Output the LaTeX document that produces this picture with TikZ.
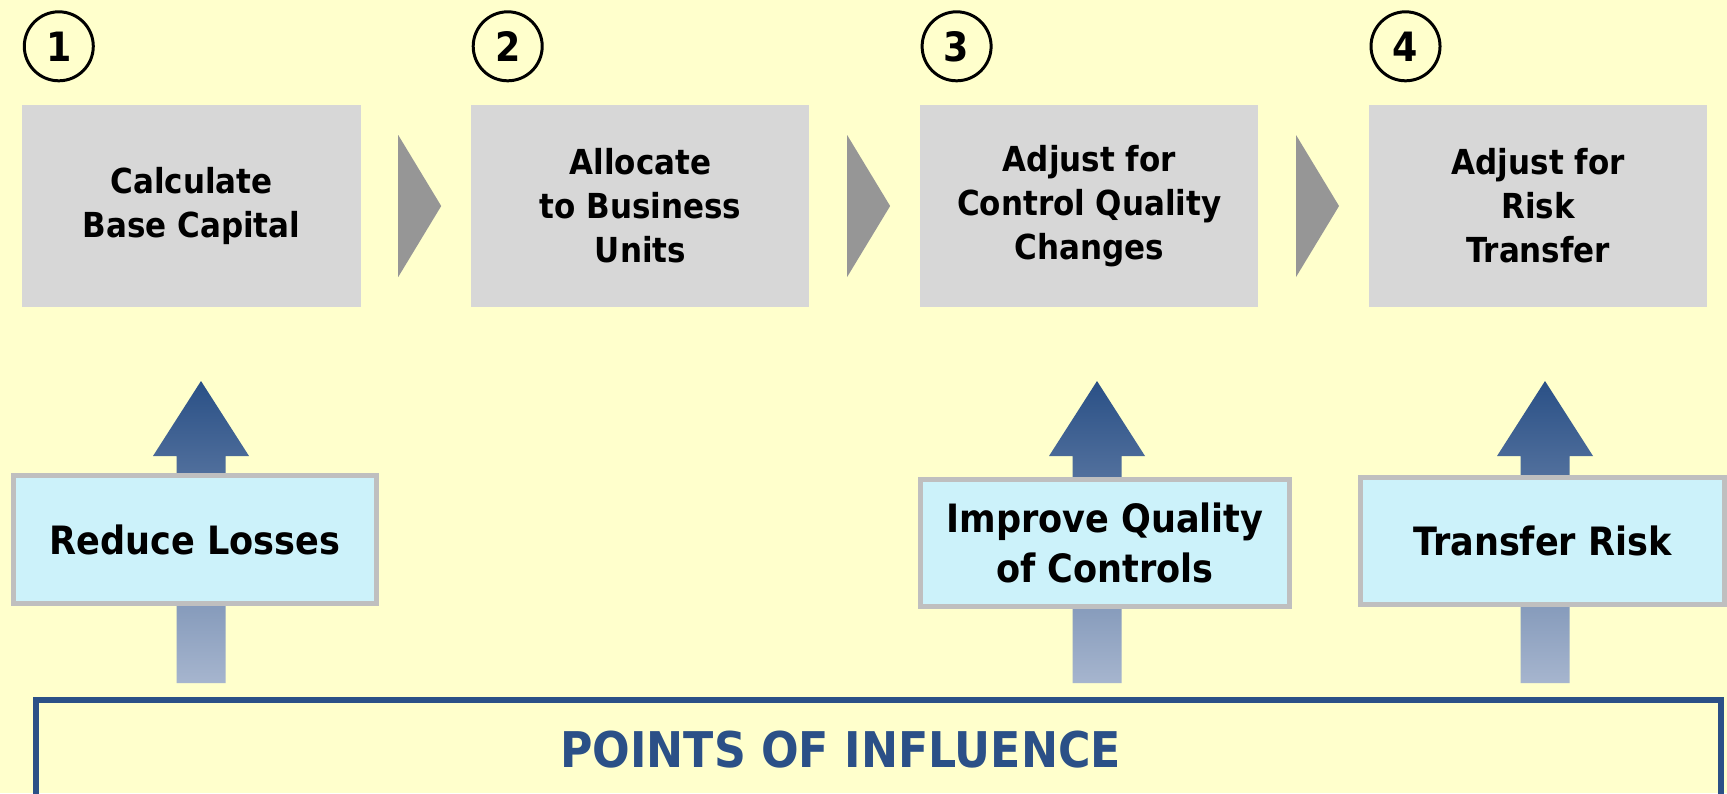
\documentclass[tikz,border=0pt]{standalone}
\usepackage{fontspec}
\setmainfont{DejaVu Sans Condensed}
\usetikzlibrary{positioning,calc}

\definecolor{bgyellow}{HTML}{FFFFCC}
\definecolor{boxgray}{HTML}{D7D7D7}
\definecolor{chevgray}{HTML}{969696}
\definecolor{leverblue}{HTML}{CCF2FA}
\definecolor{levergray}{HTML}{BFBFBF}
\definecolor{infblue}{HTML}{2B5087}
\definecolor{arrowtop}{HTML}{2A5086}
\definecolor{arrowbot}{HTML}{A6B5CE}

\begin{document}
\begin{tikzpicture}[
  node distance=1.095cm,
  stepbox/.style={fill=boxgray, minimum width=3.38cm, minimum height=2.02cm,
    inner sep=0pt, align=center, font=\fontsize{9.8}{12.5}\selectfont\bfseries},
  num/.style={draw, circle, line width=0.85pt, minimum size=0.69cm, inner sep=0pt,
    font=\fontsize{11.5}{13}\selectfont\bfseries},
  lever/.style={fill=leverblue, draw=levergray, line width=0.05cm, inner sep=0pt,
    align=center, font=\fontsize{11.1}{14}\selectfont\bfseries},
  chev/.style={fill=chevgray},
  push/.style={top color=arrowtop, bottom color=arrowbot}
]
\fill[bgyellow] (0,0) rectangle (17.27,-7.93);
\useasboundingbox (0,0) rectangle (17.27,-7.93);

% process steps
\node[stepbox] (calc) at (1.915,-2.06) {Calculate\\Base Capital};
\node[stepbox, right=of calc] (alloc) {Allocate\\to Business\\Units};
\node[stepbox, right=of alloc] (ctrl) {Adjust for\\Control Quality\\Changes};
\node[stepbox, right=of ctrl] (risk) {Adjust for\\Risk\\Transfer};

\foreach \b/\n in {calc/1, alloc/2, ctrl/3, risk/4}
  \node[num] (n\n) at ($(\b.north west)+(0.37,0.58)$) {\n};

\foreach \b in {calc, alloc, ctrl}
  \fill[chev] ($(\b.east)+(0.37,0.71)$) -- ($(\b.east)+(0.80,0)$)
    -- ($(\b.east)+(0.37,-0.71)$) -- cycle;

% influence arrows
\coordinate (p1) at (2.01,-6.83);
\coordinate (p3) at (10.97,-6.83);
\coordinate (p4) at (15.45,-6.83);
\foreach \p in {p1, p3, p4}
  \shade[push] ($(\p)+(-0.245,0)$) -- ++(0,2.27) -- ++(-0.235,0) -- ++(0.48,0.75)
    -- ++(0.48,-0.75) -- ++(-0.235,0) -- ++(0,-2.27) -- cycle;

\node[lever, minimum width=3.63cm, minimum height=1.28cm] (loss) at (1.95,-5.395) {Reduce Losses};
\node[lever, minimum width=3.69cm, minimum height=1.27cm] (qual) at (11.05,-5.43) {Improve Quality\\of Controls};
\node[lever, minimum width=3.64cm, minimum height=1.27cm] (xfer) at (15.425,-5.41) {Transfer Risk};

\node[draw=infblue, line width=0.06cm, minimum width=16.85cm, minimum height=1.0cm] (infl) at (8.785,-7.50) {};
\node[text=infblue, font=\fontsize{14}{17}\selectfont\bfseries] (inftext)
  at ($(infl.center)+(-0.38,0)$) {POINTS OF INFLUENCE};
\end{tikzpicture}
\end{document}
